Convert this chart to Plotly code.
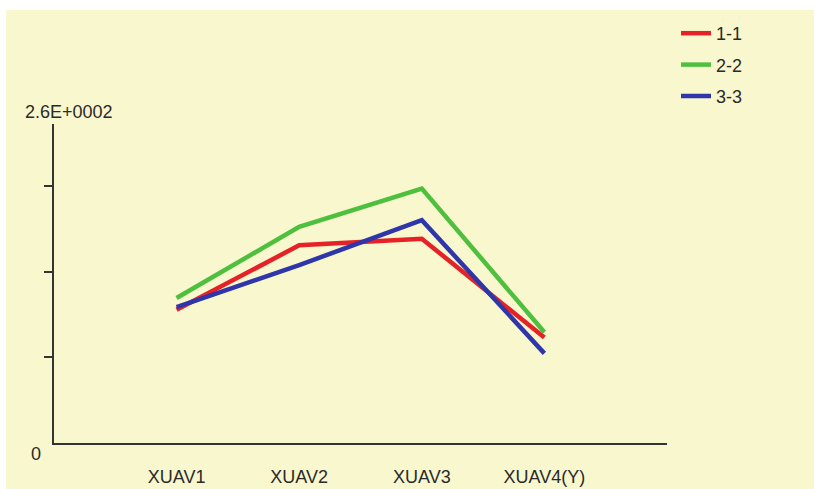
import plotly.graph_objects as go

categories = ["XUAV1", "XUAV2", "XUAV3", "XUAV4(Y)"]
series_names = ["1-1", "2-2", "3-3"]
s11 = [101, 150, 155, 80]
s22 = [110, 164, 193, 84]
s33 = [103, 135, 169, 68]
colors = ["#E42228", "#4EC03E", "#2F36AA"]

xpos = [1, 2, 3, 4]
fig = go.Figure()
for name, vals, col in zip(series_names, [s11, s22, s33], colors):
    fig.add_trace(go.Scatter(x=xpos, y=vals, mode="lines", name=name,
                             legendgroup=name,
                             line=dict(color=col, width=4.5)))

W, H = 814, 489
L, T = 54, 124
R = W - 667
B = H - 443
pw, ph = W - L - R, H - T - B

def px_x(p):
    return (p - L) / pw

def px_y(p):
    return (H - B - p) / ph

bg = "#F9F7CE"
txt = "#2A2A2A"

fig.update_layout(
    width=W, height=H,
    margin=dict(l=L, r=R, t=T, b=B, autoexpand=False),
    paper_bgcolor=bg,
    plot_bgcolor=bg,
    font=dict(family="Liberation Sans, Arial", size=18, color=txt),
    showlegend=True,
    legend=dict(x=px_x(676), y=px_y(15), xanchor="left", yanchor="top",
                bgcolor="rgba(0,0,0,0)", tracegroupgap=5,
                font=dict(size=18, color=txt)),
    shapes=[
        dict(type="rect", xref="paper", yref="paper", layer="below",
             x0=px_x(-5), x1=px_x(6), y0=px_y(H + 5), y1=px_y(-5),
             fillcolor="white", line=dict(width=0)),
        dict(type="rect", xref="paper", yref="paper", layer="below",
             x0=px_x(-5), x1=px_x(W + 5), y0=px_y(10), y1=px_y(-5),
             fillcolor="white", line=dict(width=0)),
    ],
    xaxis=dict(range=[0, 5], showgrid=False, zeroline=False, automargin=False,
               showline=True, linecolor="#333333", linewidth=2,
               tickvals=xpos, ticktext=categories, ticks="",
               ticklabelstandoff=16, tickfont=dict(size=18, color=txt)),
    yaxis=dict(range=[0, 242], showgrid=False, zeroline=False, automargin=False,
               showline=True, linecolor="#333333", linewidth=2,
               tickvals=[65, 130, 195], ticks="outside", ticklen=8,
               tickwidth=2, tickcolor="#333333", showticklabels=False),
    annotations=[
        dict(text="2.6E+0002", xref="paper", yref="paper",
             x=px_x(69), y=px_y(112), xanchor="center", yanchor="middle",
             showarrow=False, font=dict(size=18, color=txt)),
        dict(text="0", xref="paper", yref="paper",
             x=px_x(36), y=px_y(454), xanchor="center", yanchor="middle",
             showarrow=False, font=dict(size=18, color=txt)),
    ],
)

fig.write_html(
    "out.html",
    config={"displayModeBar": False},
    post_script="document.body.style.margin='0px';"
                "document.documentElement.style.overflow='hidden';",
)
